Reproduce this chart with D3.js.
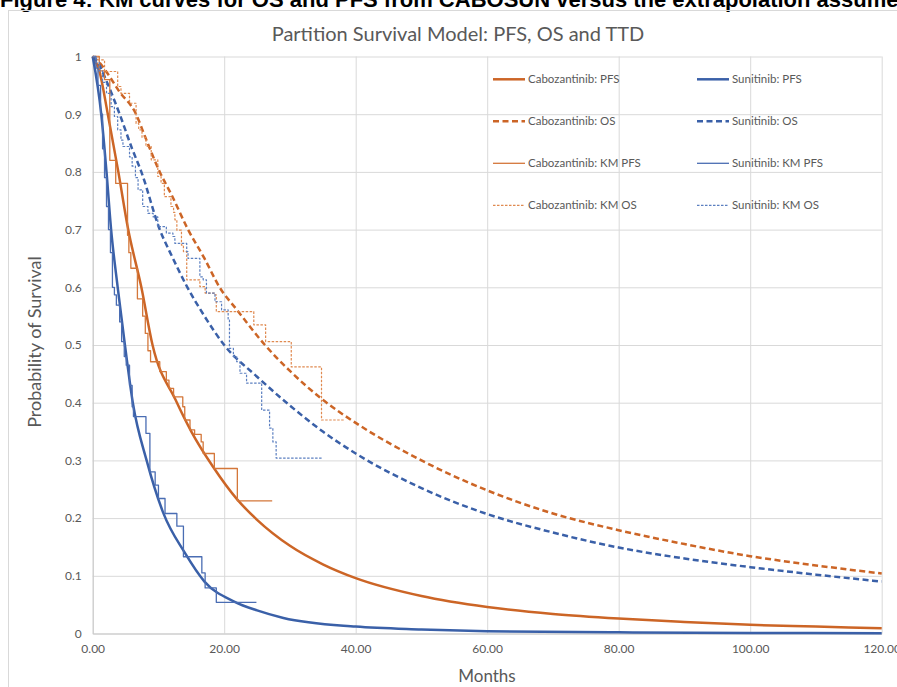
<!DOCTYPE html>
<html>
<head>
<meta charset="utf-8">
<script src="https://cdn.jsdelivr.net/npm/d3@7"></script>
<style>
    body { margin: 0; background: #fff; overflow: hidden; }
    svg { display: block; }
</style>
</head>
<body>
<div id="chart"></div>
<script>
// values: [month, probability]
var cabPfs = [[0, 1], [1, 0.975], [2.3, 0.9], [3.9, 0.8], [5.4, 0.7], [7.4, 0.6], [9.1, 0.5], [12.6, 0.405],
    [15, 0.35], [18.3, 0.289], [22, 0.232], [25, 0.197], [30, 0.152], [35, 0.12], [40, 0.096], [50, 0.065],
    [60, 0.046], [70, 0.034], [80, 0.026], [90, 0.02], [100, 0.015], [110, 0.012], [120, 0.009]];

var sunPfs = [[0, 1], [1.3, 0.9], [2.1, 0.8], [2.8, 0.7], [3.8, 0.6], [4.9, 0.5], [6.1, 0.4], [8.2, 0.3],
    [10.7, 0.21], [14, 0.14], [17, 0.09], [21.6, 0.055], [25, 0.04], [29, 0.027], [40, 0.012], [50, 0.007],
    [60, 0.004], [80, 0.002], [100, 0.001], [120, 0.0005]];

var cabOs = [[0, 1], [1, 0.99], [2, 0.975], [4, 0.94], [6.6, 0.9], [8, 0.86], [10.2, 0.8], [12, 0.76],
    [14.5, 0.7], [17, 0.65], [19.3, 0.6], [22, 0.56], [26.2, 0.5], [30, 0.455], [35, 0.405], [40, 0.365],
    [50, 0.3], [60, 0.248], [70, 0.208], [80, 0.179], [90, 0.155], [100, 0.134], [110, 0.118], [120, 0.104]];

var sunOs = [[0, 1], [1, 0.985], [2, 0.96], [4.1, 0.9], [6, 0.84], [7.4, 0.8], [10.2, 0.7], [12, 0.655],
    [14.4, 0.6], [17, 0.55], [20, 0.5], [25, 0.445], [30, 0.395], [35, 0.35], [40, 0.312], [50, 0.252],
    [60, 0.207], [70, 0.175], [80, 0.149], [90, 0.13], [100, 0.115], [110, 0.102], [120, 0.09]];

var cabKmPfs = [[0, 1], [1, 0.975], [1.8, 0.96], [2.6, 0.82], [3.5, 0.78], [5.3, 0.69], [5.5, 0.66],
    [5.8, 0.633], [6.8, 0.58], [7.6, 0.55], [8, 0.52], [8.4, 0.49], [8.8, 0.471], [10.2, 0.454], [11.2, 0.439],
    [11.6, 0.425], [12.3, 0.41], [13.7, 0.393], [14, 0.37], [14.8, 0.353], [15.5, 0.345], [16.5, 0.332],
    [16.8, 0.312], [18.5, 0.286], [22, 0.23], [27.3, 0.23]];

var sunKmPfs = [[0, 1], [0.5, 0.98], [0.8, 0.95], [1.2, 0.9], [1.5, 0.84], [1.8, 0.79], [2.1, 0.74],
    [2.4, 0.7], [2.7, 0.66], [3, 0.6], [3.3, 0.587], [3.6, 0.569], [4.1, 0.54], [4.4, 0.506], [4.8, 0.48],
    [5.1, 0.465], [5.6, 0.43], [6, 0.393], [6.2, 0.376], [8.1, 0.347], [8.7, 0.28], [9.5, 0.257], [10, 0.234],
    [11, 0.208], [12.8, 0.186], [13.8, 0.133], [16.6, 0.105], [17.1, 0.079], [18.8, 0.054], [24.9, 0.054]];

var cabKmOs = [[0, 1], [0.8, 0.994], [1.8, 0.974], [3.8, 0.948], [4.3, 0.936], [5.6, 0.919], [6.6, 0.884],
    [7, 0.873], [7.5, 0.86], [8.1, 0.844], [8.9, 0.821], [9.9, 0.792], [10.4, 0.78], [10.9, 0.757],
    [11.9, 0.74], [12.3, 0.73], [12.5, 0.717], [12.8, 0.699], [13.5, 0.673], [13.8, 0.662], [14.3, 0.613],
    [16.3, 0.601], [17.1, 0.59], [18.6, 0.587], [18.8, 0.558], [24.5, 0.535], [26.3, 0.506], [30.2, 0.462],
    [34.8, 0.37], [38.3, 0.37]];

var sunKmOs = [[0, 1], [0.5, 0.99], [1, 0.975], [1.5, 0.955], [2.1, 0.936], [2.8, 0.913], [3.3, 0.896],
    [3.8, 0.873], [4.3, 0.855], [4.6, 0.844], [5.6, 0.826], [6, 0.81], [6.5, 0.79], [6.9, 0.769], [7.6, 0.74],
    [8.4, 0.728], [9.2, 0.722], [9.9, 0.705], [11.2, 0.694], [12.2, 0.688], [12.5, 0.676], [14.3, 0.662],
    [14.5, 0.65], [16.3, 0.618], [16.8, 0.613], [17.3, 0.59], [18.6, 0.575], [19.6, 0.561], [20.6, 0.543],
    [20.8, 0.494], [21.4, 0.48], [21.9, 0.471], [22.4, 0.451], [23.4, 0.434], [25.7, 0.387], [26.9, 0.356],
    [27.4, 0.332], [27.9, 0.304], [35, 0.304]];

var xTicks = [0, 20, 40, 60, 80, 100, 120];
var yTicks = [0, 0.1, 0.2, 0.3, 0.4, 0.5, 0.6, 0.7, 0.8, 0.9, 1];

var legendLabels = ["Cabozantinib: PFS", "Sunitinib: PFS", "Cabozantinib: OS", "Sunitinib: OS",
    "Cabozantinib: KM PFS", "Sunitinib: KM PFS", "Cabozantinib: KM OS", "Sunitinib: KM OS"];

(function () {
    var width = 897, height = 687;
    var plot = { left: 92.7, right: 881.7, top: 56.5, bottom: 633.5 };
    var grey = "#595959", gridColor = "#d9d9d9";

    var svg = d3.select("#chart").append("svg")
        .attr("width", width)
        .attr("height", height)
        .style("font-family", "Lato, 'Open Sans', sans-serif");

    // figure caption, cut by the top edge as in the source page
    svg.append("text")
        .attr("x", 0)
        .attr("y", 7)
        .style("font-family", "'Liberation Sans', Arial, sans-serif")
        .style("font-weight", "bold")
        .style("font-size", "22px")
        .attr("fill", "#000")
        .text("Figure 4: KM curves for OS and PFS from CABOSUN versus the extrapolation assumed");

    svg.append("rect")
        .attr("x", 8.5)
        .attr("y", 10.5)
        .attr("width", width)
        .attr("height", height)
        .attr("fill", "none")
        .attr("stroke", gridColor);

    var x = d3.scaleLinear().domain([0, 120]).range([plot.left, plot.right]);
    var y = d3.scaleLinear().domain([0, 1]).range([plot.bottom, plot.top]);

    // gridlines
    svg.append("g")
        .attr("transform", "translate(0," + plot.bottom + ")")
        .call(d3.axisBottom(x).tickValues(xTicks).tickSize(-(plot.bottom - plot.top)).tickFormat(""))
        .call(function (g) { g.select(".domain").remove(); })
        .selectAll("line").attr("stroke", gridColor);

    svg.append("g")
        .attr("transform", "translate(" + plot.left + ",0)")
        .call(d3.axisLeft(y).tickValues(yTicks).tickSize(-(plot.right - plot.left)).tickFormat(""))
        .call(function (g) { g.select(".domain").remove(); })
        .selectAll("line").attr("stroke", gridColor);

    // axes
    var xAxis = svg.append("g")
        .attr("transform", "translate(0," + plot.bottom + ")")
        .call(d3.axisBottom(x).tickValues(xTicks).tickSize(0).tickPadding(11).tickFormat(d3.format(".2f")));
    xAxis.select(".domain").attr("stroke", "#c8c8c8");
    xAxis.selectAll("text").attr("fill", grey).style("font-size", "12px").style("font-family", "Lato, sans-serif");

    var yAxis = svg.append("g")
        .attr("transform", "translate(" + plot.left + ",0)")
        .call(d3.axisLeft(y).tickValues(yTicks).tickSize(0).tickPadding(11).tickFormat(d3.format("~g")));
    yAxis.select(".domain").attr("stroke", "#c8c8c8");
    yAxis.selectAll("text").attr("fill", grey).style("font-size", "12px").style("font-family", "Lato, sans-serif");

    svg.append("text")
        .attr("x", 458)
        .attr("y", 41)
        .attr("text-anchor", "middle")
        .attr("fill", grey)
        .style("font-size", "20px")
        .text("Partition Survival Model: PFS, OS and TTD");

    svg.append("text")
        .attr("x", 487)
        .attr("y", 682)
        .attr("text-anchor", "middle")
        .attr("fill", grey)
        .style("font-size", "17px")
        .text("Months");

    svg.append("text")
        .attr("transform", "translate(41,342) rotate(-90)")
        .attr("text-anchor", "middle")
        .attr("fill", grey)
        .style("font-size", "18px")
        .text("Probability of Survival");

    var series = [
        { data: cabPfs, color: "#cc6526", width: 2.5, dash: null, step: false },
        { data: sunPfs, color: "#3a60a8", width: 2.5, dash: null, step: false },
        { data: cabOs, color: "#cc6526", width: 2.5, dash: "6,3.5", step: false },
        { data: sunOs, color: "#3a60a8", width: 2.5, dash: "6,3.5", step: false },
        { data: cabKmPfs, color: "#d4773a", width: 1.3, dash: null, step: true },
        { data: sunKmPfs, color: "#4a6db3", width: 1.3, dash: null, step: true },
        { data: cabKmOs, color: "#e08a50", width: 1.2, dash: "2.5,1.5", step: true },
        { data: sunKmOs, color: "#5b7fc0", width: 1.2, dash: "2.5,1.5", step: true }
    ];

    var smooth = d3.line()
        .x(function (d) { return x(d[0]); })
        .y(function (d) { return y(d[1]); })
        .curve(d3.curveMonotoneX);

    var stairs = d3.line()
        .x(function (d) { return x(d[0]); })
        .y(function (d) { return y(d[1]); })
        .curve(d3.curveStepAfter);

    svg.append("g").selectAll("path")
        .data(series)
        .enter()
        .append("path")
        .attr("d", function (s) { return s.step ? stairs(s.data) : smooth(s.data); })
        .attr("fill", "none")
        .attr("stroke", function (s) { return s.color; })
        .attr("stroke-width", function (s) { return s.width; })
        .attr("stroke-dasharray", function (s) { return s.dash; })
        .attr("stroke-linejoin", "round");

    // legend, two columns
    var legend = svg.append("g").selectAll("g")
        .data(series)
        .enter()
        .append("g")
        .attr("transform", function (s, i) {
            return "translate(" + (i % 2 ? 697 : 493) + "," + (79.3 + Math.floor(i / 2) * 42) + ")";
        });

    legend.append("line")
        .attr("x1", 0).attr("x2", 32)
        .attr("stroke", function (s) { return s.color; })
        .attr("stroke-width", function (s) { return s.width; })
        .attr("stroke-dasharray", function (s) { return s.dash; });

    legend.append("text")
        .attr("x", 35)
        .attr("dy", "0.35em")
        .attr("fill", grey)
        .style("font-size", "11.5px")
        .text(function (s, i) { return legendLabels[i]; });
})();
</script>
</body>
</html>
